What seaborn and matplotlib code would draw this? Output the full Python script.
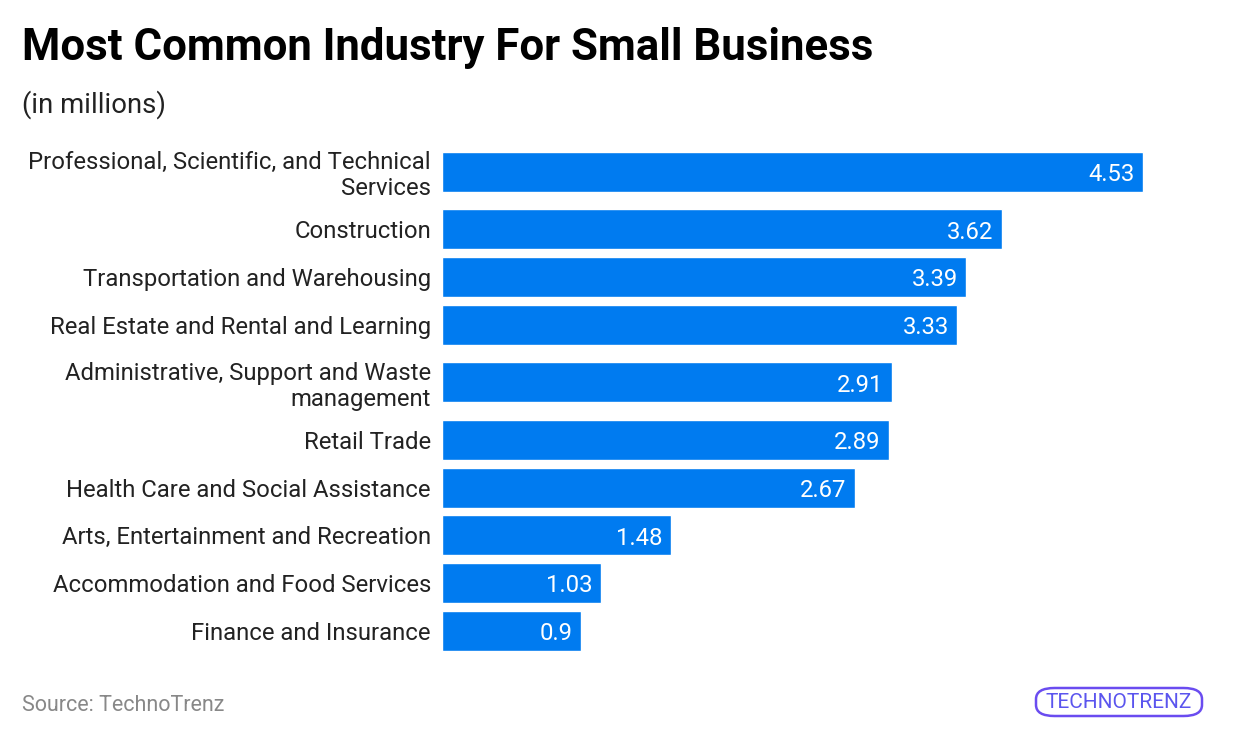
import pandas as pd
import matplotlib.pyplot as plt
import seaborn as sns
from matplotlib.patches import FancyBboxPatch

industries = [
    "Professional, Scientific, and Technical\nServices",
    "Construction",
    "Transportation and Warehousing",
    "Real Estate and Rental and Learning",
    "Administrative, Support and Waste\nmanagement",
    "Retail Trade",
    "Health Care and Social Assistance",
    "Arts, Entertainment and Recreation",
    "Accommodation and Food Services",
    "Finance and Insurance",
]
values = [4.53, 3.62, 3.39, 3.33, 2.91, 2.89, 2.67, 1.48, 1.03, 0.9]

BAR = "#007BF0"

sns.set_theme(style="white")
plt.rcParams["font.family"] = ["Roboto", "DejaVu Sans"]

# slot positions: two-line labels get a bit more room, like the original
pos = [0.0]
for i in range(1, len(industries)):
    extra = industries[i - 1].count("\n") + industries[i].count("\n")
    pos.append(pos[-1] + 1 + 0.2 * extra)

df = pd.DataFrame({"industry": industries, "value": values, "pos": pos})

fig = plt.figure(figsize=(12.4, 7.38), dpi=100)
ax = fig.add_axes([0.3565, 0.1179, 0.6235, 0.6762])

bw = 0.835
sns.barplot(data=df, x="value", y="pos", orient="y", native_scale=True,
            color=BAR, saturation=1, width=bw, ax=ax, errorbar=None)

ax.set_xlim(0, 5)
ax.set_ylim(pos[-1] + bw / 2, -bw / 2)
ax.set_yticks(pos, industries)
ax.set_xticks([])
ax.set_xlabel("")
ax.set_ylabel("")
ax.tick_params(axis="y", length=0, pad=8, labelsize=17.2, labelcolor="#222222")
for lab in ax.get_yticklabels():
    lab.set_linespacing(1.15)
sns.despine(ax=ax, left=True, bottom=True)

labels = ax.bar_label(ax.containers[0], labels=[f"{v:g}" for v in values],
                      padding=-6, color="white", fontsize=17.2)
for t in labels:
    t.set_ha("right")
    t.xyann = (t.xyann[0], -2)

fig.text(0.0177, 1 - 60 / 738, "Most Common Industry For Small Business",
         fontsize=31.5, fontweight="bold", color="black", va="baseline")
fig.text(0.0177, 1 - 113 / 738, "(in millions)", fontsize=19.8,
         color="#222222", va="baseline")
fig.text(0.0177, 1 - 711 / 738, "Source: TechnoTrenz", fontsize=15.5,
         color="#888888", va="baseline")

# logo
logo = FancyBboxPatch((1036 / 1240, 1 - 716 / 738), 166 / 1240, 28 / 738,
                      boxstyle="round,pad=0,rounding_size=0.015",
                      transform=fig.transFigure, fill=False,
                      edgecolor="#6a4cf0", linewidth=1.8)
fig.patches.append(logo)
fig.text(1119 / 1240, 1 - 702 / 738, "TECHNOTRENZ", fontsize=15,
         color="#5b55ee", ha="center", va="center")

fig.savefig("out.png", dpi=100)
